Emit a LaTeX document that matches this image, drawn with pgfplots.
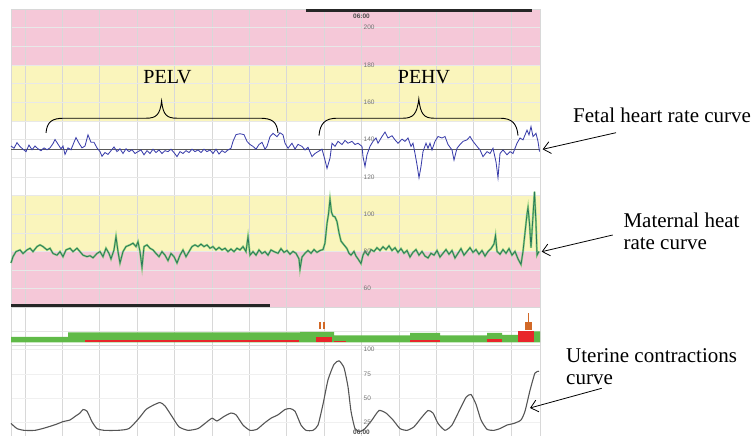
\documentclass[border=0pt]{standalone}
\usepackage{fontspec}
\setmainfont{Liberation Serif}
\newfontfamily\labfont{Liberation Sans}
\usepackage{pgfplots}
\usepackage{pgfplotstable}
\pgfplotsset{compat=1.18}
\usetikzlibrary{arrows.meta}

\definecolor{ctgpink}{RGB}{245,200,216}
\definecolor{ctgyellow}{RGB}{250,245,188}
\definecolor{fhrblue}{RGB}{58,62,170}
\definecolor{mhrdark}{RGB}{40,120,90}
\definecolor{mhrlight}{RGB}{120,200,110}
\definecolor{ucgray}{RGB}{85,85,85}
\definecolor{stripgreen}{RGB}{96,186,72}
\definecolor{stripred}{RGB}{232,38,43}
\definecolor{markorange}{RGB}{210,105,40}
\definecolor{gridc}{RGB}{216,216,216}

% fetal heart rate (x in trace position, bpm)
\pgfplotstableread{
x y
11 136.5
14 135.3
17 138.3
20 136.2
23 134.8
26 133.5
29 137
32 134.5
35 136.5
38 135
41 134
44 135.5
47 134.5
50 135.5
53 137.8
55 140
58 137.5
61 135
63 136.5
65 132
68 135.5
71 134.5
74 138.5
76 141
79 138
82 135.5
85 136.5
88 142.5
91 138.5
94 138.5
97 135.5
100 133.5
102 131
105 133
108 132
111 134
114 136
117 133.5
120 135
123 132.5
126 135
129 133.5
132 134.5
135 132.5
138 133.5
141 134.4
144 131.8
147 134
150 132.5
153 134.8
156 133
159 134.4
162 132.5
165 134
168 133.5
171 134.8
174 133
177 130.8
180 133.5
183 132.5
186 134
189 133
192 134.8
195 133.5
198 134.4
201 133
204 134.8
207 133.5
210 134.4
213 132.5
216 134.8
219 132.2
222 134
225 133
228 134.4
231 135.3
233 139
236 142.6
240 143.1
244 142.6
247 139
250 137.3
253 136.3
256 134.8
259 137.3
262 138.5
265 134.8
267 136.3
270 141.5
273 143.3
277 141.5
280 143.6
283 142.5
285 138
288 135.3
292 138
295 134.8
298 137.4
302 136.3
305 134.4
308 135.8
312 130.8
315 132.5
318 133.5
322 134.8
325 129
327 124.5
330 130
332 138
335 136.3
338 139
342 137.3
345 139.5
348 138
352 139
355 137.3
358 138
362 136.3
363 130.8
365 125.5
367 131.8
370 136.3
373 139
376 140.8
378 138
382 141.6
385 144
388 140.8
392 142
395 139.8
398 138
402 140.2
405 139
408 140.8
411 136.3
413 138
415 132.5
417 126.5
419 119.5
421 125.5
423 133.5
426 138
428 135.3
430 138
432 134.4
435 139
438 141.6
442 140.8
445 141.6
448 137.3
452 134.4
454 129
457 135.3
460 137.3
463 139
467 139.8
470 141.6
473 139
477 136.3
480 134.4
483 130.8
487 133.5
490 132.5
493 135.3
496 128
498 119.5
500 132.5
503 134.4
507 131.8
510 133.5
513 132.5
517 138
520 140.8
523 139.8
527 145
529 142.5
531 146.9
533 141.6
536 143.3
538 139
539.5 133.5
}\fhr

% maternal heart rate
\pgfplotstableread{
x y
11 73.8
13 77.2
16 79.9
20 80.8
23 78.9
27 80.8
30 81.7
33 79.9
37 82.6
40 83.5
43 82.6
47 80.8
50 81.7
53 78.9
57 78
60 79.9
63 77.2
66 80.8
70 81.7
73 79.9
77 81.7
80 79.9
83 78
87 77.2
90 77.7
93 76.6
97 78.9
100 79.9
103 77.2
106 81.7
109 78.9
111 76
114 80.8
116 87.9
118 79.9
120 73.8
123 79.9
126 82.6
130 83.5
133 84.4
136 82.6
138 85.2
140 79.9
142 71.5
144 82.6
147 83.5
150 81.7
153 80.8
156 78.9
159 77.2
162 79.9
165 78
168 75.1
171 78.9
174 77.2
177 73.8
180 78
183 80.8
186 77.2
189 79.9
192 82.6
195 83.5
198 82.6
201 83.9
204 82.6
207 83.5
210 81.7
213 82.6
216 80.8
219 82.1
222 80.8
225 81.7
228 79.9
231 81.3
234 79.9
237 81.7
240 80.8
243 82.6
246 79.9
248 87.9
250 78
253 79.9
256 78
259 80.8
262 78.9
265 79.9
268 78
271 80.8
274 79.9
278 79
281 81.5
284 79.5
287 80.5
290 78.5
293 80
296 79
299 76
300 70.5
302 77
305 79
308 80.5
311 79
314 81
317 79.5
320 80.5
323 81
325 84.5
327 95
328.5 100
330 108
331.5 101
333 99
335 98.5
337 96
339 90
341 85.5
344 83.5
347 81.5
349 79
351 78
354 80
356 77.5
358 76
361 73.5
363 78
365 80
368 78
371 81
374 80
377 82
380 80.5
383 82.5
386 81
389 83
392 80.5
395 82
398 79.5
401 81.5
404 79
407 80.5
410 77
413 79.5
416 81
419 78
422 80
425 77.5
428 76.5
431 79
434 78
437 80.5
440 77
443 79
446 81
449 78.5
452 80.5
455 76.5
458 79
461 81.5
464 78
467 80
470 82
473 79.5
476 81
479 78.5
482 80.5
485 77.5
488 80
491 81.5
494 84
495.5 88.5
497 80
500 78.5
503 81
506 79
509 81.5
512 78
515 80
518 76
521 73
523 80
525 90
527 100
528 103.5
529.5 95
531 82
532.5 95
534.5 112
536 95
537 78
539 80
}\mhr

% uterine contractions
\pgfplotstableread{
x y
11 24.2
17 18.9
24 17.1
35 17.1
45 19.6
56 23.2
63 26
70 27.7
75 31.3
80 34.8
83 38.4
87 36.7
92 26
97 18.9
104 17.1
118 17.1
129 18.9
139 29.5
146 38.4
153 42.7
160 45.6
165 42.1
172 31.3
179 20.7
188 17.1
198 18.9
205 24.2
212 29.5
217 26.7
224 31.3
231 34.8
236 33
243 22.5
250 17.1
257 18.2
264 24.2
271 29.5
278 33
285 38.4
290 39.4
295 36.7
301 22.5
306 17.1
313 17.1
318 22.5
323 43.8
328 68.7
334 84.7
339 88.3
344 81.2
348 61.6
351 36.7
355 18.9
360 16
365 18.9
372 27.7
379 37.4
386 34.8
393 27.7
400 18.9
407 17.1
414 20.7
421 29.5
428 37.4
433 34.8
438 24.2
445 17.1
452 22.5
459 36.7
466 50.9
471 53.8
476 43.8
481 27.7
487 18.2
494 17.1
500 18.9
507 22.5
514 24.2
521 27.7
525 36.7
530 58
535 75.8
539 77.6
}\uc

\pgfplotsset{ctg/.style={scale only axis, width=529pt, xmin=11, xmax=540,
  set layers, clip=false, axis line style={gridc},
  xtick={24.9,62.3,99.7,137.1,174.5,211.9,249.3,286.7,324.1,398.9,436.3,473.7,511.1},
  xticklabels={}, yticklabels={}, tick style={draw=none},
  xmajorgrids, x grid style={gridc, line width=0.6pt},
  extra x ticks={361.5}, extra x tick labels={},
  extra x tick style={major grid style={black!45, line width=0.8pt}}}}
\tikzset{lab/.style={font=\labfont\fontsize{6.5}{7}\selectfont, text=black!55, inner sep=0pt, anchor=west},
  stamp/.style={font=\labfont\bfseries\fontsize{6.5}{7}\selectfont, text=black!70, inner sep=0pt, anchor=center},
  note/.style={font=\fontsize{21}{23}\selectfont, anchor=base west, inner sep=0pt},
  callout/.style={line width=0.8pt, -{Straight Barb[length=7pt,width=12pt]}}}

\begin{document}
\begin{tikzpicture}

% heart rate panel
\begin{axis}[ctg, at={(11pt,128.6pt)}, anchor=south west, height=298.5pt,
  ymin=50, ymax=210, ytick={60,70,...,200}, ymajorgrids, y grid style={black!9, line width=0.5pt}]
\addplot[fill=ctgpink, draw=none, on layer=axis background] coordinates {(11,180) (540,180) (540,210) (11,210)} --cycle;
\addplot[fill=ctgyellow, draw=none, on layer=axis background] coordinates {(11,150) (540,150) (540,180) (11,180)} --cycle;
\addplot[fill=ctgyellow, draw=none, on layer=axis background] coordinates {(11,80) (540,80) (540,110) (11,110)} --cycle;
\addplot[fill=ctgpink, draw=none, on layer=axis background] coordinates {(11,50) (540,50) (540,80) (11,80)} --cycle;
\addplot[black!65, line width=1.1pt] coordinates {(11,134.5) (540,134.5)};
\addplot[black!85, line width=3pt] coordinates {(306,209.3) (532,209.3)};
\addplot[black!85, line width=2.5pt] coordinates {(11,51) (270,51)};
\addplot[fhrblue, line width=0.85pt] table {\fhr};
\addplot[mhrlight, line width=2pt, opacity=0.8] table {\mhr};
\addplot[mhrdark, line width=0.8pt] table {\mhr};
\node[stamp] at (axis cs:361.5,206.2) {06:00};
\node[lab] at (axis cs:363.5,200) {200};
\node[lab] at (axis cs:363.5,180) {180};
\node[lab] at (axis cs:363.5,160) {160};
\node[lab] at (axis cs:363.5,140) {140};
\node[lab] at (axis cs:363.5,120) {120};
\node[lab] at (axis cs:363.5,100) {100};
\node[lab] at (axis cs:363.5,80) {80};
\node[lab] at (axis cs:363.5,60) {60};
\node[font=\fontsize{20}{22}\selectfont, anchor=base, inner sep=0pt] at (axis cs:167.5,170.1) {PELV};
\node[font=\fontsize{20}{22}\selectfont, anchor=base, inner sep=0pt] at (axis cs:424,170.1) {PEHV};
\draw[line width=0.9pt] (axis cs:46,143.5) .. controls (axis cs:47,149.5) and (axis cs:52,151.4) .. (axis cs:64,151.4)
  -- (axis cs:146,151.4) .. controls (axis cs:156,151.4) and (axis cs:160,153) .. (axis cs:161.6,160.7)
  .. controls (axis cs:163,153) and (axis cs:167,151.4) .. (axis cs:177,151.4)
  -- (axis cs:260,151.4) .. controls (axis cs:272,151.4) and (axis cs:277,149.5) .. (axis cs:278,143.5);
\draw[line width=0.9pt] (axis cs:319,142.1) .. controls (axis cs:320,148.5) and (axis cs:325,151.4) .. (axis cs:337,151.4)
  -- (axis cs:403,151.4) .. controls (axis cs:413,151.4) and (axis cs:417,153.5) .. (axis cs:418.8,161.7)
  .. controls (axis cs:420.5,153.5) and (axis cs:424,151.4) .. (axis cs:434,151.4)
  -- (axis cs:500,151.4) .. controls (axis cs:512,151.4) and (axis cs:517,148.5) .. (axis cs:518,142.1);
\end{axis}

% event strip
\begin{axis}[ctg, at={(11pt,91pt)}, anchor=south west, height=37.6pt,
  ymin=0, ymax=37.6, ytick={14}, ymajorgrids, y grid style={black!10, line width=0.5pt}]
\addplot[fill=stripgreen, draw=none] coordinates {(11,2.5) (11,8) (68,8) (68,12.5) (300,12.5) (300,13) (334,13) (334,9.5)
  (410,9.5) (410,12) (440,12) (440,9.5) (487,9.5) (487,12) (502,12) (502,10) (518,10) (518,13.5) (540,13.5) (540,2.5)} --cycle;
\addplot[fill=stripred, draw=none] coordinates {(85,2.5) (85,4.8) (299,4.8) (299,2.5)} --cycle;
\addplot[fill=stripred, draw=none] coordinates {(316,2.5) (316,7.5) (332,7.5) (332,2.5)} --cycle;
\addplot[fill=stripred, draw=none] coordinates {(334,2.5) (334,4.3) (346,4.3) (346,2.5)} --cycle;
\addplot[fill=stripred, draw=none] coordinates {(410,2.5) (410,4.8) (440,4.8) (440,2.5)} --cycle;
\addplot[fill=stripred, draw=none] coordinates {(487,2.5) (487,6) (502,6) (502,2.5)} --cycle;
\addplot[fill=stripred, draw=none] coordinates {(518,2.5) (518,13.8) (534,13.8) (534,2.5)} --cycle;
\addplot[fill=markorange, draw=none] coordinates {(319,15.5) (319,23) (321.3,23) (321.3,15.5)} --cycle;
\addplot[fill=markorange, draw=none] coordinates {(323,15.5) (323,23) (325.3,23) (325.3,15.5)} --cycle;
\addplot[fill=markorange, draw=none] coordinates {(525,15) (525,23) (532,23) (532,15)} --cycle;
\addplot[markorange, line width=1pt] coordinates {(528.5,23) (528.5,31.5)};
\end{axis}

% uterine contractions panel
\begin{axis}[ctg, at={(11pt,0pt)}, anchor=south west, height=91pt,
  ymin=11.3, ymax=104.5, ytick={25,50,75,100}, ymajorgrids, y grid style={black!6, line width=0.5pt}]
\addplot[ucgray, line width=1.1pt, smooth, tension=0.35] table {\uc};
\node[lab] at (axis cs:363.5,100) {100};
\node[lab] at (axis cs:363.5,75) {75};
\node[lab] at (axis cs:363.5,50) {50};
\node[lab] at (axis cs:363.5,25) {25};
\node[stamp] at (axis cs:361.5,15.4) {06:00};
\end{axis}

% callouts
\node[note] at (573pt,313.3pt) {Fetal heart rate curve};
\draw[callout] (616pt,303.3pt) -- (542.7pt,286.7pt);
\node[note] at (623.3pt,208.7pt) {Maternal heat};
\node[note] at (623.3pt,186pt) {rate curve};
\draw[callout] (612.7pt,201pt) -- (541.7pt,184.3pt);
\node[note] at (566pt,73.3pt) {Uterine contractions};
\node[note] at (566pt,51pt) {curve};
\draw[callout] (601.7pt,47.7pt) -- (530pt,28pt);

\pgfresetboundingbox
\path (0pt,0pt) rectangle (755pt,436pt);
\end{tikzpicture}
\end{document}
